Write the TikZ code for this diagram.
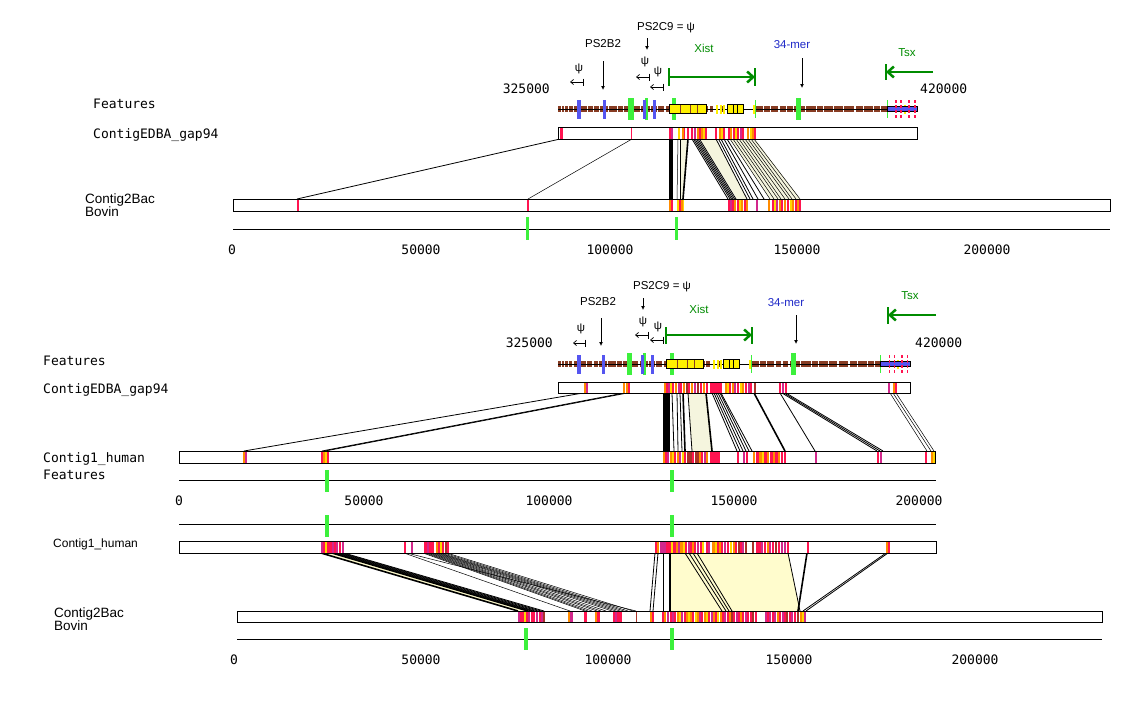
\documentclass[tikz,border=0pt]{standalone}
\usepackage{fontspec}
\setmainfont{Liberation Sans}
\newfontfamily\monof{DejaVu Sans Mono}
\usetikzlibrary{arrows.meta}
\definecolor{cR}{RGB}{255,20,80}
\definecolor{cO}{RGB}{255,140,0}
\definecolor{cY}{RGB}{255,215,0}
\definecolor{cM}{RGB}{210,40,140}
\definecolor{cD}{RGB}{170,50,40}
\definecolor{cBr}{RGB}{135,60,35}
\definecolor{cBl}{RGB}{85,85,240}
\definecolor{cG}{RGB}{60,240,60}
\definecolor{cDG}{RGB}{0,140,0}
\definecolor{cNavy}{RGB}{30,40,200}
\definecolor{cBeige}{RGB}{245,245,222}
\definecolor{cCream}{RGB}{255,252,205}
\definecolor{cFY}{RGB}{255,240,0}
\newcommand{\stripes}[3]{\foreach \sx/\sw/\sc in {#3}{\fill[\sc] (\sx,#1) rectangle (\sx+\sw,#2);}}
\newcommand{\ribs}[4]{\foreach \ta/\tb in {#4}{\draw[#3] (\ta,#1) -- (\tb,#2);}}
\newcommand{\psileft}[3]{\draw[line width=0.7,-{Straight Barb[length=3pt,width=5pt]}] (#1,#3) -- (#2,#3); \draw[line width=0.7] (#1,#3-3.5) -- (#1,#3+3.5);}
\newcommand{\feattrack}[3]{%
\begin{scope}[shift={(#1,#2)},xscale=#3]
\fill[cBr] (0,-3) rectangle (329,3);
\foreach \gx/\gw in {2.7/1.3,6/1.3,10/1.3,14.7/1.3,28.7/1.3,35/1.3,41/1.3,50/1.3,59/1.3,65/1.3,82/1.3,92/1.3,99/1.3,106/2,150/1.5,155/3,160/2,167/2,186/9,205/1.3,212/1.3,220/2,228/1.3,235/1.3,247/1.3,258/1.3,265/1.3,275/1.3,285/1.3,296/2,305/1.3,315/1.3,322/1.3}{\fill[white] (\gx,-3.5) rectangle (\gx+\gw,3.5);}
\draw[line width=0.8] (0,0) -- (359,0);
\foreach \gx/\gw in {70/6,87/3,114/4,238/5}{\fill[cG] (\gx,-11) rectangle (\gx+\gw,11);}
\foreach \gx in {197,329}{\fill[cG] (\gx,-9) rectangle (\gx+1,9);}
\foreach \bx/\bw in {19/4,45/3,85/3,95/3}{\fill[cBl] (\bx,-9) rectangle (\bx+\bw,10);}
\foreach \yx in {158,162,165,195,346}{\fill[cFY] (\yx,-4.5) rectangle (\yx+2,4.5);}
\filldraw[fill=cFY,draw=black,line width=0.8] (111,-4.5) rectangle (148,4.5);
\foreach \ix in {122,132,139}{\draw[cBr,line width=1] (\ix,-4) -- (\ix,4);}
\filldraw[fill=cFY,draw=black,line width=0.8] (169,-4.5) rectangle (185,4.5);
\foreach \ix in {175,179}{\draw[line width=0.8] (\ix,-4.5) -- (\ix,4.5);}
\filldraw[fill=cBl,draw=black,line width=0.6] (329,-2.5) rectangle (359,2.5);
\foreach \rx in {338,343,351,357}{\draw[cR,line width=1.2,dash pattern=on 3pt off 2pt] (\rx,-9) -- (\rx,9);}
\end{scope}}
\begin{document}
\begin{tikzpicture}[x=1pt,y=-1pt,
 mono/.style={font=\monof\fontsize{13}{13}\selectfont,inner sep=0pt},
 sans/.style={font=\fontsize{12}{12}\selectfont,inner sep=0pt},
 sansbig/.style={font=\fontsize{13.5}{13.5}\selectfont,inner sep=0pt},
 ann/.style={font=\fontsize{11.5}{11.5}\selectfont,inner sep=0pt},
 trackbox/.style={draw=black,line width=1},
 rib/.style={draw=black,line width=0.8},
 ribthin/.style={draw=black,line width=0.5},
 ribthick/.style={draw=black,line width=1.6},
 axisline/.style={line width=1},
 gtick/.style={fill=cG},
 darr/.style={line width=0.8,-{Latex[length=4pt,width=4pt]}},
 garr/.style={cDG,line width=2.5,-{Straight Barb[length=6pt,width=11pt]}},
 gbar/.style={cDG,line width=2}]
\useasboundingbox (0,0) rectangle (1145,702);
\fill[white] (0,0) rectangle (1145,702);

% ================= TOP PANEL =================
\node[mono,anchor=base west] (featT) at (93,108) {Features};
\node[mono,anchor=base west] (edbaT) at (93,138) {ContigEDBA\_gap94};
\node[sansbig,anchor=base west] (bovT1) at (85,203) {Contig2Bac};
\node[sansbig,anchor=base west] (bovT2) at (85,216) {Bovin};
\node[mono,anchor=base east] (n325T) at (550,93) {325000};
\node[mono,anchor=base west] (n420T) at (920,93) {420000};

\node[ann] (ps9T) at (666,28) {PS2C9 = ψ};
\draw[darr] (647,38) -- (647,50);
\node[ann] (psbT) at (603,44) {PS2B2};
\draw[darr] (603,61) -- (603,90);
\node[ann] (psi1T) at (579,69) {ψ}; \psileft{583}{570}{82}
\node[ann] (psi2T) at (645,62) {ψ}; \psileft{649}{636}{77}
\node[ann] (psi3T) at (658,72) {ψ}; \psileft{663}{650}{87}
\node[ann,text=cDG] (xistT) at (704,48) {Xist};
\draw[garr] (669,77) -- (755,77);
\draw[gbar] (669,68) -- (669,86); \draw[gbar] (755,68) -- (755,86);
\node[ann,text=cNavy] (merT) at (792,45) {34-mer};
\draw[darr] (802,58) -- (802,88);
\node[ann,text=cDG] (tsxT) at (907,53) {Tsx};
\draw[garr] (933,72) -- (886,72);
\draw[gbar] (886,64) -- (886,80);

\feattrack{558}{109}{1}

% ribbons top
\draw[rib] (560,139) -- (297,199);
\draw[ribthin] (632,139) -- (528,199);
\fill (669,139) rectangle (673,199);
\fill[cBeige] (680,139) -- (688,139) -- (683,199) -- (680,199) -- cycle;
\ribs{139}{199}{ribthin}{678/677,680/680}
\draw[ribthick] (688,139) -- (683,199);
\fill[cBeige] (700,139) -- (716,139) -- (747,199) -- (737,199) -- cycle;
\fill[cBeige] (730,139) -- (755,139) -- (800,199) -- (770,199) -- cycle;
\ribs{139}{199}{rib}{692/728,693.5/730,695/731.5,696.5/733,698/734.5,699.5/736,716/747,718.5/750,721/753,724/758,727/764}
\ribs{139}{199}{ribthin}{730/770,733/774,736/778,739/781,742/785,745/789,748/792,751/796,754/800}

% boxes top
\fill[white] (558,127) rectangle (917,139);
\stripes{127}{139}{560/2.5/cR,631/1/cR,669/2/cR,671/2/cM,678/1.5/cY,682/1.5/cO,684/1/cR,687/1.5/cR,691/2/cR,694/1.5/cM,697/2/cO,699/1.5/cR,701/2/cO,703/1.5/cY,705/2/cR,715/2/cR,719/2/cO,721/1.5/cY,723/2/cR,728/2/cR,730/2/cO,733/2/cR,735/1.5/cY,737/2/cR,740/2/cM,742/1.5/cR,747/2/cO,750/2/cY,752/2/cO,754/1.5/cR}
\draw[trackbox] (558,127) rectangle (917,139);
\fill[white] (233,199) rectangle (1110,211);
\stripes{199}{211}{297/2/cR,527/1.5/cR,669/2/cO,671/2/cR,677/2/cY,679/2/cR,681/1.5/cO,683/1/cY,728/2/cR,730/2/cM,732/2/cR,734/2/cO,737/2/cR,739/1.5/cY,741/2/cO,744/1.5/cR,746/1.5/cO,756/2/cM,768/1.5/cO,772/2/cR,774/1.5/cY,776/2/cM,779/2/cO,781/1.5/cR,784/2/cO,787/1.5/cR,790/2/cY,792/2/cO,795/1.5/cR,797/2/cO,799/1.5/cR}
\draw[trackbox] (233,199) rectangle (1110,211);
\draw[axisline] (233,229) -- (1110,229);
\fill[gtick] (526,217) rectangle (529,240);
\fill[gtick] (675,217) rectangle (678,240);
\foreach \ax/\al in {232/0,421/50000,610/100000,797/150000,987/200000}{\node[mono,anchor=base] at (\ax,254) {\al};}

% ================= MIDDLE PANEL =================
\node[mono,anchor=base west] (featM) at (43,365) {Features};
\node[mono,anchor=base west] (edbaM) at (43,393) {ContigEDBA\_gap94};
\node[mono,anchor=base west] (humM) at (43,462) {Contig1\_human};
\node[mono,anchor=base west] (featM2) at (43,479) {Features};
\node[mono,anchor=base east] (n325M) at (553,347) {325000};
\node[mono,anchor=base west] (n420M) at (915,347) {420000};

\node[ann] (ps9M) at (662,287) {PS2C9 = ψ};
\draw[darr] (643,298) -- (643,310);
\node[ann] (psbM) at (598,302) {PS2B2};
\draw[darr] (601,318) -- (601,346);
\node[ann] (psi1M) at (581,329) {ψ}; \psileft{585}{573}{343}
\node[ann] (psi2M) at (643,322) {ψ}; \psileft{648}{635}{335}
\node[ann] (psi3M) at (658,327) {ψ}; \psileft{663}{650}{340}
\node[ann,text=cDG] (xistM) at (699,309) {Xist};
\draw[garr] (666,335) -- (752,335);
\draw[gbar] (666,327) -- (666,344); \draw[gbar] (752,327) -- (752,344);
\node[ann,text=cNavy] (merM) at (786,303) {34-mer};
\draw[darr] (796,315) -- (796,344);
\node[ann,text=cDG] (tsxM) at (910,296) {Tsx};
\draw[garr] (936,315) -- (888,315);
\draw[gbar] (888,307) -- (888,324);

\feattrack{558}{364}{0.98}

% ribbons middle
\draw[rib] (583,393) -- (244,451);
\ribs{393}{451}{rib}{624/322,627/325}
\fill (663,393) rectangle (670,451);
\fill[cBeige] (688,393) -- (707,393) -- (713,451) -- (692,451) -- cycle;
\ribs{393}{451}{rib}{672/674,677/678,680/682,688/692}
\draw[ribthick] (683,393) -- (685,451);
\draw[ribthick] (706,393) -- (712,451);
\ribs{393}{451}{rib}{712/737,714/740,716/743,718/746,720/749,721/752}
\draw[ribthick] (754,393) -- (785,451);
\ribs{393}{451}{rib}{780/815,782/877,784/880,786/883}
\ribs{393}{451}{ribthin}{890/927,893/931,896/934}

\fill[white] (558,382) rectangle (910,393);
\stripes{382}{393}{584/2/cO,586/1.5/cM,623/2/cO,626/2/cO,628/1.5/cR,664/2/cO,666/2/cR,668/2/cM,670/1.5/cY,672/2/cR,675/2/cO,678/2/cM,680/1.5/cR,683/2/cO,686/2/cD,688/2/cR,691/2/cO,694/2/cM,697/2/cD,700/1.5/cR,703/2/cO,706/1.5/cR,710/4/cR,714/4/cR,718/4/cR,725/2/cO,727/2/cY,729/2/cR,732/2/cO,734/2/cM,737/2/cR,740/2/cY,742/2/cO,745/2/cR,748/2/cM,750/2/cR,754/1.5/cD,779/1.5/cR,782/2/cM,785/1.5/cR,888/1.5/cM,893/2/cO,895/2/cR}
\draw[trackbox] (558,382) rectangle (910,393);
\fill[white] (179,451) rectangle (935,463);
\stripes{451}{463}{243/2/cO,245/1.5/cM,321/1.5/cR,323/1.5/cO,325/1.5/cY,327/1.5/cR,663/2/cO,665/2/cR,667/2/cM,670/2/cO,672/1.5/cY,674/2/cR,677/2/cO,679/2/cM,682/1.5/cY,684/2/cR,687/5/cD,692/2/cR,695/4/cD,699/2/cO,701/2/cR,704/2/cM,706/1.5/cO,710/4/cR,714/4/cR,718/2/cR,737/2/cR,743/2/cM,746/1.5/cR,753/2/cO,756/3/cR,759/3/cO,762/2/cY,764/3/cR,767/2/cO,770/3/cR,773/2/cO,775/3/cR,778/2/cO,781/2/cR,784/2/cR,815/2/cM,877/1.5/cR,880/2/cM,925/1.5/cR,931/2/cO,933/1.5/cY}
\draw[trackbox] (179,451) rectangle (935,463);
\draw[axisline] (179,480) -- (936,480);
\fill[gtick] (325,470) rectangle (329,492);
\fill[gtick] (670,470) rectangle (674,492);
\foreach \ax/\al in {179/0,364/50000,549/100000,734/150000,919/200000}{\node[mono,anchor=base] at (\ax,505) {\al};}

% ================= BOTTOM PANEL =================
\node[sans,anchor=base west] (humB) at (53,547) {Contig1\_human};
\node[sansbig,anchor=base west] (bovB1) at (54,617) {Contig2Bac};
\node[sansbig,anchor=base west] (bovB2) at (54,630) {Bovin};
\draw[axisline] (179,524) -- (936,524);
\fill[gtick] (325,515) rectangle (329,537);
\fill[gtick] (670,515) rectangle (674,537);

% ribbons bottom
\fill[cCream] (321,553) -- (332,553) -- (528,611) -- (518,611) -- cycle;
\draw[ribthick] (321,553) -- (518,611);
\draw[ribthick] (332,553) -- (528,611);
\ribs{553}{611}{rib}{334/531,336/533,338/535,340/538,342/541,344/544}
\ribs{553}{611}{ribthin}{404/570,407/636,423/585,425/588,427/592,429/597,431/601,433/606,435/612,437/616,439/620,441/624,444/628,447/633}
\fill[cCream] (670,553) -- (788,553) -- (800,611) -- (670,611) -- cycle;
\ribs{553}{611}{rib}{655/650,658/653,663/663,685/722,689/726,693/729,697/732,788/800,886/803,888/806}
\draw[ribthick] (670,553) -- (670,611);
\draw[ribthick] (807,553) -- (798,611);

\fill[white] (179,541) rectangle (936,553);
\stripes{541}{553}{321/2/cM,323/2/cR,325/1.5/cY,327/2/cR,329/3/cR,332/2/cM,334/2/cR,336/2/cM,339/1.5/cR,342/1.5/cM,404/1.5/cR,411/2/cM,424/3/cR,427/2/cM,429/3/cR,432/2/cR,436/1.5/cO,438/2/cR,440/2/cY,442/2/cR,445/2/cD,447/1.5/cR,655/2/cR,657/2/cO,660/3/cM,663/3/cM,666/2/cR,668/3/cR,671/2/cY,673/3/cR,676/2/cO,678/2/cM,680/3/cO,683/2/cY,685/2/cR,688/2/cM,690/2/cR,692/2/cO,694/2/cR,697/2/cM,700/2/cR,702/2/cY,706/2/cR,708/2/cM,712/3/cO,715/2/cY,717/2/cR,719/2/cO,721/2/cR,724/2/cM,727/2/cR,730/2/cY,733/2/cO,735/2/cR,738/2/cD,740/2/cR,742/2/cM,745/1.5/cD,752/2/cD,756/2/cR,758/3/cR,761/2/cM,764/2/cR,767/2/cO,769/2/cM,772/2/cR,775/2/cD,778/2/cR,781/2/cM,784/2/cM,787/1.5/cR,807/1.5/cR,886/2/cO,888/1.5/cR}
\draw[trackbox] (179,541) rectangle (936,553);
\fill[white] (237,611) rectangle (1102,622);
\stripes{611}{622}{518/2/cM,520/2/cR,522/2/cR,524/1.5/cY,526/2/cR,528/2/cM,531/2/cR,533/2/cR,536/2/cM,539/2/cR,541/2/cM,543/1.5/cD,568/1.5/cO,570/3/cM,584/3/cR,595/1.5/cO,597/3/cR,613/1.5/cR,615/2/cM,617/3/cR,620/1.5/cR,636/1/cD,650/1.5/cO,652/1.5/cR,662/2/cR,664/2/cO,667/2/cM,670/2/cR,672/2/cM,674/2/cR,677/2/cO,679/2/cY,681/2/cM,684/2/cR,686/2/cO,688/2/cY,690/2/cO,692/2/cR,695/2/cY,697/2/cO,699/2/cM,701/2/cR,704/2/cO,706/2/cY,708/2/cR,711/2/cM,713/2/cO,715/2/cR,717/2/cY,720/2/cO,722/2/cR,724/2/cM,727/2/cR,729/2/cO,731/2/cD,733/2/cR,736/2/cM,738/2/cR,740/2/cO,742/2/cR,745/2/cM,747/2/cR,750/2/cR,752/2/cD,755/1.5/cR,765/2/cM,767/2/cR,769/2/cM,772/2/cR,774/2/cM,777/2/cO,779/2/cR,782/2/cM,784/2/cR,786/2/cD,789/2/cR,791/2/cM,794/2/cR,797/2/cD,800/2/cO,802/2/cY,804/1.5/cM}
\draw[trackbox] (237,611) rectangle (1102,622);
\draw[axisline] (237,639) -- (1102,639);
\fill[gtick] (524,628) rectangle (528,650);
\fill[gtick] (670,628) rectangle (674,650);
\foreach \ax/\al in {234/0,421/50000,608/100000,789/150000,975/200000}{\node[mono,anchor=base] at (\ax,664) {\al};}
\end{tikzpicture}
\end{document}
